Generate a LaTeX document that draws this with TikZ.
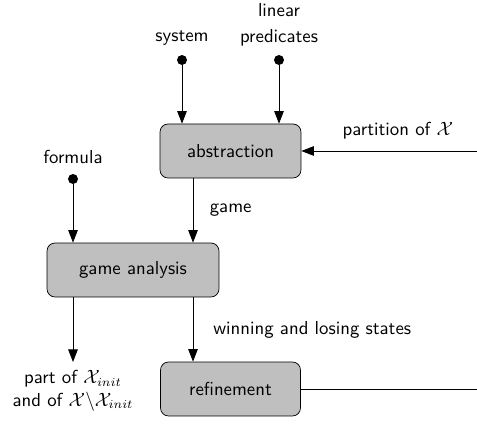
\documentclass[tikz,border=0pt]{standalone}
\usetikzlibrary{arrows.meta}
\renewcommand{\familydefault}{\sfdefault}
\tikzset{
  blockbox/.style={draw, fill=gray!50, rounded corners=1.6mm, minimum height=1.08cm, inner sep=0pt},
  srcdot/.style={circle, fill=black, inner sep=0pt, minimum size=2mm},
  flow/.style={-{Triangle[length=2.5mm,width=1.9mm]}, line width=0.5pt},
}
\begin{document}
\begin{tikzpicture}[x=0.02cm, y=-0.02cm, font=\fontsize{10.7}{13}\selectfont]
\useasboundingbox (0,0) rectangle (477,428);

\node[blockbox, minimum width=2.82cm] (abs) at (230.5,151) {abstraction};
\node[blockbox, minimum width=3.44cm] (ana) at (133,270) {game analysis};
\node[blockbox, minimum width=2.80cm] (ref) at (230.5,389) {refinement};

\node[srcdot] (sys) at (182,60) {};
\node[srcdot] (lin) at (279,60) {};
\node[srcdot] (frm) at (73,179) {};

\node (systxt) at (182,38) {system};
\node[align=center] (lintxt) at (279,25) {linear\\[2pt]predicates};
\node (frmtxt) at (73,157) {formula};

\coordinate (pin) at (477,151);
\coordinate (rout) at (477,389);
\coordinate (res) at (73,362);

\draw[flow] (sys) -- (abs.north -| sys);
\draw[flow] (lin) -- (abs.north -| lin);
\draw[flow] (pin) -- (abs.east) node[pos=0.45, above=3pt] {partition of $\mathcal{X}$};

\draw[flow] (abs.south -| 193,0) -- (ana.north -| 193,0) node[midway, right=6pt] {game};
\draw[flow] (frm) -- (ana.north -| frm);

\draw[flow] (ana.south -| res) -- (res);
\node[align=center, below=1pt] (restxt) at (res) {part of $\mathcal{X}_{init}$\\and of $\mathcal{X}\backslash\mathcal{X}_{init}$};
\draw[flow] (ana.south -| 193,0) -- (ref.north -| 193,0) node[midway, right=8pt] {winning and losing states};

\draw[line width=0.5pt] (ref.east) -- (rout);

\end{tikzpicture}
\end{document}
